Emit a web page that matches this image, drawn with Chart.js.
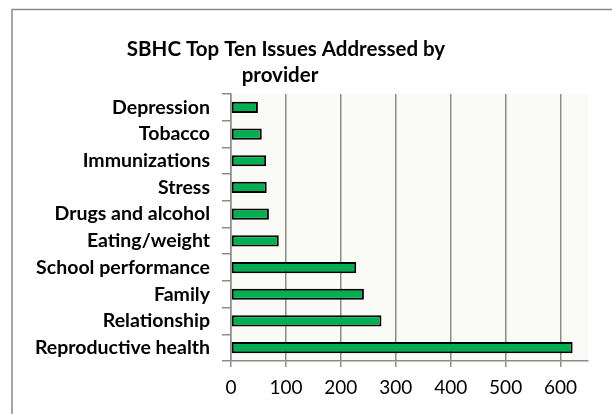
<!DOCTYPE html>
<html>
<head>
<meta charset="utf-8">
<script src="https://cdn.jsdelivr.net/npm/chart.js@4/dist/chart.umd.min.js"></script>
<style>
  html, body { margin: 0; padding: 0; background: #fff; }
  #wrap { width: 612px; height: 414px; }
</style>
</head>
<body>
<div id="wrap"><canvas id="chart" width="612" height="414"></canvas></div>
<script>
// data (top to bottom)
const categories = ['Depression', 'Tobacco', 'Immunizations', 'Stress', 'Drugs and alcohol',
  'Eating/weight', 'School performance', 'Family', 'Relationship', 'Reproductive health'];
const counts = [49, 56, 64, 65, 69, 87, 228, 242, 274, 622];
const titleLines = ['SBHC Top Ten Issues Addressed by', 'provider'];
const axisMax = 650;
const axisStep = 100;

const FONT = 'Lato, "Open Sans", sans-serif';

// plot background, outer frame and title
const decor = {
  id: 'decor',
  beforeDraw(chart) {
    const { ctx, chartArea: a } = chart;
    ctx.save();
    ctx.fillStyle = '#fafaf6';
    ctx.fillRect(a.left, a.top, a.right - a.left, a.bottom - a.top);
    ctx.strokeStyle = '#8a8a8a';
    ctx.lineWidth = 1.5;
    ctx.beginPath();
    ctx.moveTo(12, 414);
    ctx.lineTo(12, 9.5);
    ctx.lineTo(612, 9.5);
    ctx.stroke();
    ctx.restore();
  },
  afterDraw(chart) {
    const ctx = chart.ctx;
    ctx.save();
    ctx.fillStyle = '#000';
    ctx.font = 'bold 20.5px ' + FONT;
    ctx.textAlign = 'center';
    ctx.textBaseline = 'middle';
    ctx.fillText(titleLines[0], 286, 49);
    ctx.fillText(titleLines[1], 280, 75);
    ctx.restore();
  }
};

new Chart(document.getElementById('chart'), {
  type: 'bar',
  data: {
    labels: categories,
    datasets: [{
      data: counts,
      backgroundColor: '#00b050',
      borderColor: '#000',
      borderWidth: 2,
      borderSkipped: false,
      barPercentage: 0.42,
      categoryPercentage: 1
    }]
  },
  options: {
    indexAxis: 'y',
    responsive: false,
    animation: false,
    layout: { padding: { top: 94, right: 24, left: 0, bottom: 0 } },
    plugins: { legend: { display: false }, tooltip: { enabled: false } },
    scales: {
      x: {
        min: 0,
        max: axisMax,
        afterFit: (s) => { s.height = 53; },
        afterBuildTicks: (s) => {
          const t = [];
          for (let v = 0; v <= axisMax; v += axisStep) t.push({ value: v });
          s.ticks = t;
        },
        ticks: { stepSize: axisStep, color: '#000', font: { family: FONT, size: 19 }, padding: 9 },
        grid: { color: '#8c8c8c', lineWidth: 1.5, tickLength: 6 },
        border: { color: '#8c8c8c', width: 1.5 }
      },
      y: {
        afterFit: (s) => { s.width = 231; },
        ticks: { color: '#000', font: { family: FONT, size: 19.5, weight: 'bold' }, padding: 12 },
        grid: { drawOnChartArea: false, color: '#8c8c8c', lineWidth: 1.5, tickLength: 9 },
        border: { color: '#8c8c8c', width: 1.5 }
      }
    }
  },
  plugins: [decor]
});
</script>
</body>
</html>
